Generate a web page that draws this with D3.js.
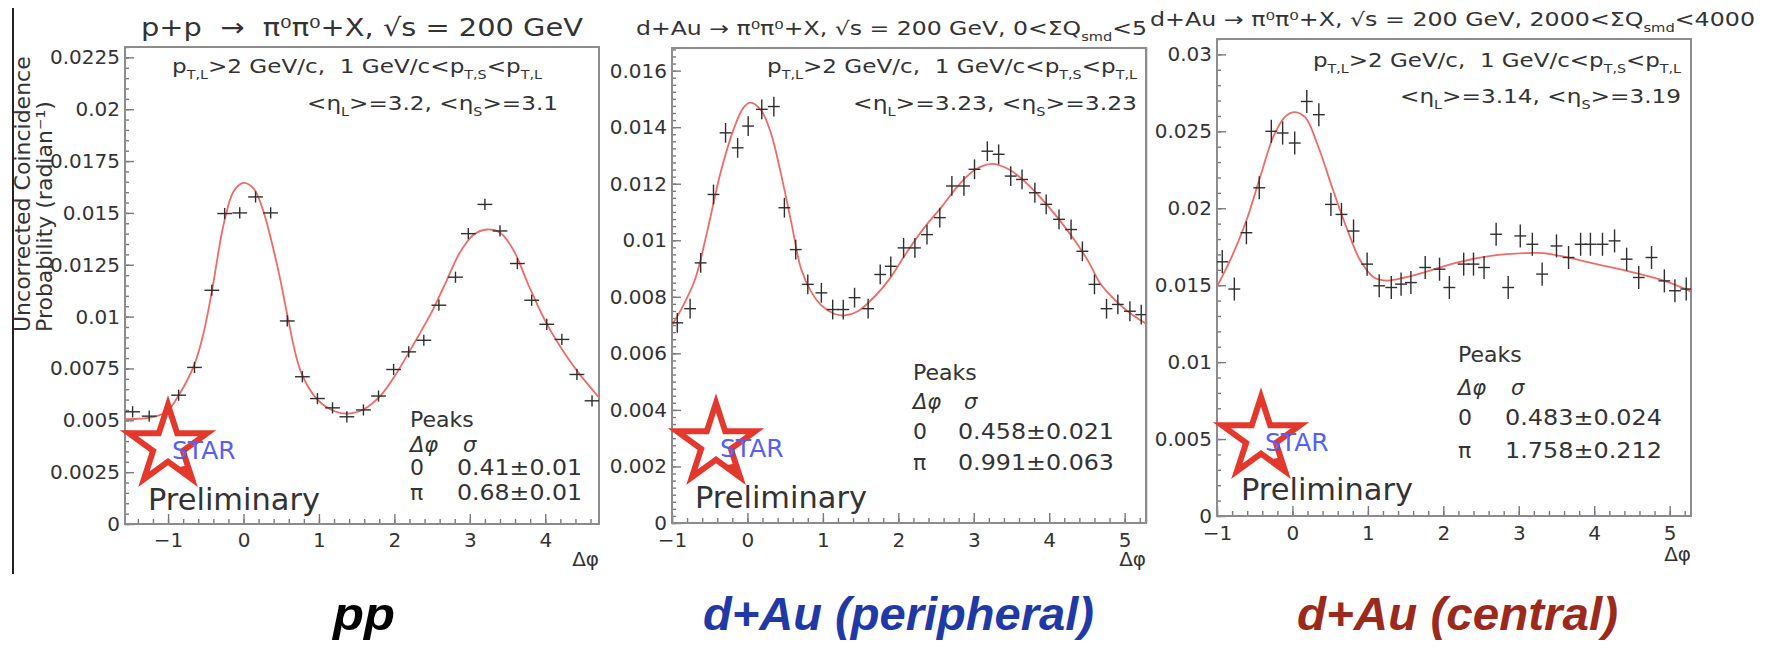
<!DOCTYPE html>
<html>
<head>
<meta charset="utf-8">
<title>pi0 pi0 azimuthal correlations</title>
<script src="https://cdnjs.cloudflare.com/ajax/libs/d3/7.8.5/d3.min.js"></script>
<style>
  body { margin: 0; background: #fff; }
  svg text { font-family: "DejaVu Sans", sans-serif; fill: #333; white-space: pre; }
  .frame { fill: none; stroke: #8c8c8c; stroke-width: 2; }
  .axis path { display: none; }
  .axis line { stroke: #7a7a7a; stroke-width: 1.4; }
  .axis text { font-family: "DejaVu Sans", sans-serif; font-size: 20px; fill: #333; }
  .fit { fill: none; stroke: #f06a66; stroke-width: 1.8; }
  .pt line { stroke: #2e2e2e; stroke-width: 1.4; }
  .star { fill: none; stroke: #e5382c; stroke-width: 6; stroke-linejoin: miter; }
  .bottom { font-family: "Liberation Sans", Arial, sans-serif; font-weight: bold; font-style: italic; font-size: 46px; }
</style>
</head>
<body>
<svg id="chart" width="1772" height="650"></svg>
<script>
const PI = Math.PI;

// ---------- p+p ----------
const ppDphi = [-1.47, -1.25, -0.86, -0.65, -0.42, -0.25, -0.05, 0.16, 0.36, 0.58, 0.78, 0.98, 1.18, 1.37, 1.59,
  1.79, 1.99, 2.19, 2.39, 2.59, 2.81, 2.98, 3.2, 3.4, 3.63, 3.82, 4.02, 4.22, 4.42, 4.62];
const ppProb = [0.00541, 0.0052, 0.00621, 0.00755, 0.01127, 0.01497, 0.0150, 0.01577, 0.0150, 0.00979, 0.0071,
  0.00605, 0.0056, 0.00517, 0.0055, 0.00617, 0.00745, 0.0083, 0.00886, 0.01055, 0.0119, 0.0140, 0.01541,
  0.01413, 0.01256, 0.01079, 0.00963, 0.0089, 0.00721, 0.00594];
const ppErr = 0.00027;
const ppFitDphi = [-1.571, -1.2, -1.01, -0.86, -0.65, -0.53, -0.42, -0.26, -0.13, 0.0, 0.14, 0.27, 0.38, 0.49, 0.58,
  0.76, 0.98, 1.2, 1.37, 1.59, 1.82, 1.99, 2.26, 2.52, 2.7, 2.87, 3.05, 3.23, 3.4, 3.58, 3.78, 4.02, 4.29, 4.46, 4.712];
const ppFitProb = [0.00505, 0.00515, 0.00545, 0.0062, 0.0077, 0.0092, 0.0112, 0.0145, 0.01605, 0.01645, 0.01615,
  0.015, 0.0135, 0.01175, 0.0101, 0.00735, 0.006, 0.00545, 0.00532, 0.00552, 0.0062, 0.00705, 0.0087, 0.0104,
  0.0118, 0.0131, 0.01395, 0.0142, 0.01405, 0.0132, 0.0115, 0.00965, 0.00805, 0.0072, 0.0061];
const ppYTicks = [0, 0.0025, 0.005, 0.0075, 0.01, 0.0125, 0.015, 0.0175, 0.02, 0.0225];
const ppYLabels = ["0", "0.0025", "0.005", "0.0075", "0.01", "0.0125", "0.015", "0.0175", "0.02", "0.0225"];
const ppXTicks = [-1, 0, 1, 2, 3, 4];
const ppXLabels = ["\u22121", "0", "1", "2", "3", "4"];
const ppPeaks = [["0", "0.41\u00b10.01"], ["\u03c0", "0.68\u00b10.01"]];
const ppTitle = [["p+p  \u2192  \u03c0\u2070\u03c0\u2070+X, \u221as = 200 GeV"]];
const ppEtas = [["<\u03b7"], ["L", "sub"], [">=3.2, <\u03b7"], ["S", "sub"], [">=3.1"]];

// ---------- d+Au peripheral ----------
const perDphi = [-0.93, -0.76, -0.62, -0.45, -0.29, -0.13, 0.01, 0.19, 0.35, 0.49, 0.64, 0.8, 0.98, 1.13, 1.27,
  1.42, 1.6, 1.76, 1.9, 2.07, 2.22, 2.38, 2.55, 2.71, 2.87, 3.01, 3.18, 3.33, 3.49, 3.64, 3.81, 3.96, 4.13, 4.29,
  4.44, 4.6, 4.76, 4.91, 5.07, 5.22];
const perProb = [0.00708, 0.00758, 0.0092, 0.01162, 0.0138, 0.01327, 0.01404, 0.01463, 0.01473, 0.01115, 0.00967,
  0.00844, 0.00814, 0.00755, 0.00755, 0.00797, 0.00758, 0.00879, 0.00908, 0.00973, 0.00973, 0.0102, 0.0108,
  0.01192, 0.01192, 0.01251, 0.01315, 0.01304, 0.01227, 0.01215, 0.01168, 0.01127, 0.01074, 0.01038, 0.00961,
  0.00844, 0.00758, 0.00773, 0.00749, 0.00737];
const perErr = 0.00035;
const perFitDphi = [-1.0, -0.85, -0.69, -0.53, -0.36, -0.18, -0.05, 0.04, 0.18, 0.31, 0.44, 0.58, 0.71, 0.84, 0.98,
  1.15, 1.29, 1.47, 1.69, 1.87, 2.13, 2.36, 2.58, 2.8, 3.02, 3.24, 3.47, 3.69, 3.91, 4.13, 4.36, 4.53, 4.67, 4.89,
  5.07, 5.283];
const perFitProb = [0.007, 0.0077, 0.00865, 0.01035, 0.01235, 0.01395, 0.0147, 0.01487, 0.0146, 0.0138, 0.0124,
  0.01065, 0.009, 0.0082, 0.0077, 0.0074, 0.00734, 0.0075, 0.00802, 0.00858, 0.00965, 0.0105, 0.0112, 0.01195,
  0.0125, 0.0127, 0.0125, 0.01204, 0.01144, 0.01074, 0.00991, 0.0092, 0.0085, 0.00784, 0.00743, 0.00705];
const perYTicks = [0, 0.002, 0.004, 0.006, 0.008, 0.01, 0.012, 0.014, 0.016];
const perYLabels = ["0", "0.002", "0.004", "0.006", "0.008", "0.01", "0.012", "0.014", "0.016"];
const perPeaks = [["0", "0.458\u00b10.021"], ["\u03c0", "0.991\u00b10.063"]];
const perTitle = [["d+Au \u2192 \u03c0\u2070\u03c0\u2070+X, \u221as = 200 GeV, 0<\u03a3Q"], ["smd", "sub"], ["<5"]];
const perEtas = [["<\u03b7"], ["L", "sub"], [">=3.23, <\u03b7"], ["S", "sub"], [">=3.23"]];

// ---------- d+Au central ----------
const cenDphi = [-0.93, -0.77, -0.61, -0.44, -0.28, -0.13, 0.03, 0.19, 0.35, 0.51, 0.65, 0.81, 0.99, 1.15, 1.31,
  1.44, 1.57, 1.76, 1.95, 2.08, 2.27, 2.4, 2.54, 2.7, 2.86, 3.02, 3.18, 3.31, 3.5, 3.66, 3.82, 3.95, 4.11, 4.27,
  4.43, 4.59, 4.76, 4.93, 5.07, 5.22];
const cenProb = [0.01652, 0.01475, 0.01841, 0.02133, 0.025, 0.02489, 0.02424, 0.02694, 0.02608, 0.02025, 0.0196,
  0.01852, 0.01637, 0.01496, 0.01485, 0.01507, 0.01517, 0.01615, 0.01604, 0.01485, 0.01637, 0.01637, 0.01615,
  0.01831, 0.01485, 0.0182, 0.01766, 0.01572, 0.01755, 0.0168, 0.01766, 0.01766, 0.01766, 0.01788, 0.01669,
  0.0155, 0.0168, 0.01528, 0.01464, 0.01475];
const cenErr = 0.00075;
const cenFitDphi = [-1.0, -0.79, -0.61, -0.43, -0.24, -0.085, 0.03, 0.17, 0.35, 0.53, 0.72, 0.9, 1.08, 1.26, 1.49,
  1.72, 2.18, 2.63, 3.09, 3.32, 3.55, 4.0, 4.46, 4.92, 5.283];
const cenFitProb = [0.0149, 0.017, 0.0192, 0.022, 0.0248, 0.026, 0.02625, 0.0259, 0.0239, 0.0213, 0.0187, 0.0166,
  0.0155, 0.0153, 0.0155, 0.0158, 0.01647, 0.0169, 0.01708, 0.01708, 0.0169, 0.0164, 0.0159, 0.0153, 0.0146];
const cenYTicks = [0, 0.005, 0.01, 0.015, 0.02, 0.025, 0.03];
const cenYLabels = ["0", "0.005", "0.01", "0.015", "0.02", "0.025", "0.03"];
const cenPeaks = [["0", "0.483\u00b10.024"], ["\u03c0", "1.758\u00b10.212"]];
const cenTitle = [["d+Au \u2192 \u03c0\u2070\u03c0\u2070+X, \u221as = 200 GeV, 2000<\u03a3Q"], ["smd", "sub"], ["<4000"]];
const cenEtas = [["<\u03b7"], ["L", "sub"], [">=3.14, <\u03b7"], ["S", "sub"], [">=3.19"]];

// shared
const dAuXTicks = [-1, 0, 1, 2, 3, 4, 5];
const dAuXLabels = ["\u22121", "0", "1", "2", "3", "4", "5"];
const cutText = [["p"], ["T,L", "sub"], [">2 GeV/c,  1 GeV/c<p"], ["T,S", "sub"], ["<p"], ["T,L", "sub"]];
const yTitle = ["Uncorrected Coincidence", "Probability (radian\u207b\u00b9)"];
const bottomLabels = ["pp", "d+Au (peripheral)", "d+Au (central)"];

const svg = d3.select("#chart");

function minorTicks(domain, step) {
  return d3.range(Math.ceil(domain[0] / step - 1e-9) * step, domain[1] + 1e-9, step);
}

// text with subscript pieces, squeezed to a given length
function rich(g, x, y, parts, size, len) {
  const t = g.append("text").attr("x", x).attr("y", y).attr("font-size", size);
  if (len) t.attr("textLength", len).attr("lengthAdjust", "spacingAndGlyphs");
  let shift = 0;
  parts.forEach(function(pt) {
    const s = pt[1] === "sub" ? size * 0.3 : 0;
    t.append("tspan").attr("dy", s - shift)
      .attr("font-size", pt[1] ? size * 0.62 : size).text(pt[0]);
    shift = s;
  });
  return t;
}

function starPath(cx, cy, R) {
  const pts = d3.range(10).map(function(k) {
    const a = -PI / 2 + k * PI / 5, r = k % 2 ? R * 0.382 : R;
    return [cx + r * Math.cos(a), cy + r * Math.sin(a)];
  });
  return d3.line()(pts) + "Z";
}

function drawPanel(p, i) {
  const x = d3.scaleLinear().domain(p.xDomain).range([p.left, p.right]);
  const y = d3.scaleLinear().domain([0, p.yMax]).range([p.bottom, p.top]);
  const g = svg.append("g");

  g.append("clipPath").attr("id", "clip" + i).append("rect")
      .attr("x", p.left).attr("y", p.top)
      .attr("width", p.right - p.left).attr("height", p.bottom - p.top);

  g.append("g").attr("class", "axis").attr("transform", `translate(0,${p.bottom})`)
      .call(d3.axisBottom(x).tickValues(minorTicks(p.xDomain, 0.2)).tickSize(-5).tickFormat(""));
  g.append("g").attr("class", "axis").attr("transform", `translate(0,${p.bottom})`)
      .call(d3.axisBottom(x).tickValues(p.xTicks).tickSize(-10).tickPadding(p.tickPad)
        .tickFormat(function(d, j) { return p.xLabels[j]; }));
  g.append("g").attr("class", "axis").attr("transform", `translate(${p.left},0)`)
      .call(d3.axisLeft(y).tickValues(minorTicks([0, p.yMax], p.yMinor)).tickSize(-4).tickFormat(""));
  g.append("g").attr("class", "axis").attr("transform", `translate(${p.left},0)`)
      .call(d3.axisLeft(y).tickValues(p.yTicks).tickSize(-9).tickPadding(5)
        .tickFormat(function(d, j) { return p.yLabels[j]; }));

  g.append("rect").attr("class", "frame")
      .attr("x", p.left).attr("y", p.top)
      .attr("width", p.right - p.left).attr("height", p.bottom - p.top);

  // fit curve
  const fitLine = d3.line()
      .x(function(d) { return x(d[0]); })
      .y(function(d) { return y(d[1]); })
      .curve(d3.curveCatmullRom);
  g.append("path").datum(d3.zip(p.fitDphi, p.fitProb))
      .attr("class", "fit").attr("clip-path", `url(#clip${i})`).attr("d", fitLine);

  // data crosses
  const pts = g.append("g").attr("clip-path", `url(#clip${i})`)
      .selectAll("g").data(d3.zip(p.dphi, p.prob))
      .enter().append("g").attr("class", "pt");
  pts.append("line")
      .attr("x1", function(d) { return x(d[0] - p.binHalf); })
      .attr("x2", function(d) { return x(d[0] + p.binHalf); })
      .attr("y1", function(d) { return y(d[1]); })
      .attr("y2", function(d) { return y(d[1]); });
  pts.append("line")
      .attr("x1", function(d) { return x(d[0]); })
      .attr("x2", function(d) { return x(d[0]); })
      .attr("y1", function(d) { return y(d[1] - p.err); })
      .attr("y2", function(d) { return y(d[1] + p.err); });

  // titles and cut text
  rich(g, p.title.x, p.title.y, p.titleText, p.title.size, p.title.len);
  rich(g, p.cuts.x, p.cuts.y, cutText, 20, p.cuts.len);
  rich(g, p.etas.x, p.etas.y, p.etaText, 20, p.etas.len);

  g.append("text").attr("x", p.right).attr("y", p.xTitleY)
      .attr("text-anchor", "end").attr("font-size", 20).text("\u0394\u03c6");

  // peaks table
  const pk = p.peaksPos;
  g.append("text").attr("x", pk.x).attr("y", pk.y[0]).attr("font-size", 22).text("Peaks");
  g.append("text").attr("x", pk.x).attr("y", pk.y[1]).attr("font-size", 21)
      .attr("font-style", "italic").text("\u0394\u03c6");
  g.append("text").attr("x", pk.x2 + 6).attr("y", pk.y[1]).attr("font-size", 21)
      .attr("font-style", "italic").text("\u03c3");
  p.peaks.forEach(function(row, j) {
    g.append("text").attr("x", pk.x).attr("y", pk.y[2 + j]).attr("font-size", 22).text(row[0]);
    g.append("text").attr("x", pk.x2).attr("y", pk.y[2 + j]).attr("font-size", 22)
        .attr("textLength", pk.len).attr("lengthAdjust", "spacingAndGlyphs").text(row[1]);
  });

  // STAR logo
  const st = p.star;
  g.append("path").attr("class", "star").attr("d", starPath(st.cx, st.cy, st.r));
  const a = PI * 54 / 180;
  const tx = st.cx + st.r * Math.cos(a), ty = st.cy + st.r * Math.sin(a);
  g.append("path").attr("fill", "#e5382c")
      .attr("d", `M${tx + 4},${ty + 2}L${tx - 14},${ty - 12}L${tx - 4},${ty - 14}Z`);
  g.append("text").attr("x", st.cx + 4).attr("y", st.cy + 13)
      .attr("font-size", 25).style("fill", "#5561f5").text("STAR");
  g.append("text").attr("x", p.prelim.x).attr("y", p.prelim.y)
      .attr("font-size", 30).attr("textLength", 172).attr("lengthAdjust", "spacingAndGlyphs")
      .text("Preliminary");
}

const panels = [
  {
    dphi: ppDphi, prob: ppProb, err: ppErr, fitDphi: ppFitDphi, fitProb: ppFitProb,
    yTicks: ppYTicks, yLabels: ppYLabels, xTicks: ppXTicks, xLabels: ppXLabels,
    peaks: ppPeaks, titleText: ppTitle, etaText: ppEtas,
    xDomain: [-PI / 2, 3 * PI / 2], yMax: 0.023, yMinor: 0.0005, binHalf: 0.098,
    left: 125, right: 599, top: 47, bottom: 524, tickPad: 9, xTitleY: 566,
    title: { x: 141, y: 36, size: 25, len: 442 },
    cuts: { x: 172, y: 73, len: 370 }, etas: { x: 307, y: 110, len: 251 },
    peaksPos: { x: 410, x2: 457, y: [427, 452, 475, 500], len: 125 },
    star: { cx: 168, cy: 446, r: 41 }, prelim: { x: 148, y: 510 }
  },
  {
    dphi: perDphi, prob: perProb, err: perErr, fitDphi: perFitDphi, fitProb: perFitProb,
    yTicks: perYTicks, yLabels: perYLabels, xTicks: dAuXTicks, xLabels: dAuXLabels,
    peaks: perPeaks, titleText: perTitle, etaText: perEtas,
    xDomain: [-1, 2 * PI - 1], yMax: 0.0168, yMinor: 0.00025, binHalf: 0.0785,
    left: 672, right: 1146, top: 48, bottom: 523, tickPad: 10, xTitleY: 566,
    title: { x: 636, y: 35, size: 19, len: 511 },
    cuts: { x: 767, y: 73, len: 370 }, etas: { x: 853, y: 110, len: 284 },
    peaksPos: { x: 913, x2: 958, y: [380, 409, 439, 470], len: 156 },
    star: { cx: 716, cy: 444, r: 41 }, prelim: { x: 695, y: 508 }
  },
  {
    dphi: cenDphi, prob: cenProb, err: cenErr, fitDphi: cenFitDphi, fitProb: cenFitProb,
    yTicks: cenYTicks, yLabels: cenYLabels, xTicks: dAuXTicks, xLabels: dAuXLabels,
    peaks: cenPeaks, titleText: cenTitle, etaText: cenEtas,
    xDomain: [-1, 2 * PI - 1], yMax: 0.031, yMinor: 0.001, binHalf: 0.0785,
    left: 1217, right: 1691, top: 39, bottom: 516, tickPad: 10, xTitleY: 561,
    title: { x: 1150, y: 26, size: 19, len: 605 },
    cuts: { x: 1313, y: 67, len: 368 }, etas: { x: 1400, y: 103, len: 281 },
    peaksPos: { x: 1458, x2: 1505, y: [362, 395, 425, 458], len: 157 },
    star: { cx: 1261, cy: 438, r: 41 }, prelim: { x: 1241, y: 500 }
  }
];

// slide decorations: black bar at left, thin grey line between the d+Au plots
svg.append("line").attr("x1", 13).attr("x2", 13).attr("y1", 8).attr("y2", 574)
    .attr("stroke", "#222").attr("stroke-width", 2);
svg.append("line").attr("x1", 1147).attr("x2", 1147).attr("y1", 47).attr("y2", 523)
    .attr("stroke", "#bbb").attr("stroke-width", 1);

panels.forEach(drawPanel);

// shared y title of the pp plot
yTitle.forEach(function(s, j) {
  svg.append("text")
      .attr("transform", `translate(${[30, 52][j]},332) rotate(-90)`)
      .attr("font-size", 22).text(s);
});

// bottom captions
const captionPos = [{ x: 333, len: 62, c: "#000" }, { x: 703, len: 391, c: "#1f3aa6" }, { x: 1297, len: 321, c: "#9c2a1c" }];
bottomLabels.forEach(function(s, j) {
  svg.append("text").attr("class", "bottom")
      .attr("x", captionPos[j].x).attr("y", 630)
      .attr("textLength", captionPos[j].len).attr("lengthAdjust", "spacingAndGlyphs")
      .style("fill", captionPos[j].c).text(s);
});
</script>
</body>
</html>
